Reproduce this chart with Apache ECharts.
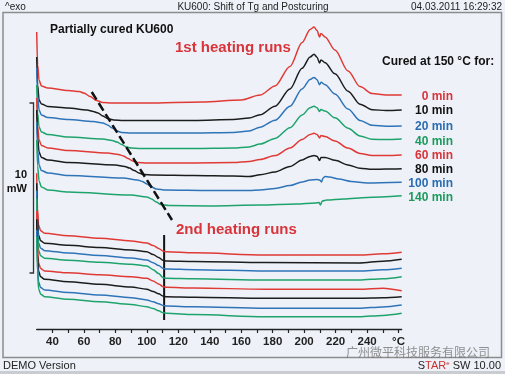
<!DOCTYPE html>
<html><head><meta charset="utf-8">
<script src="https://cdn.jsdelivr.net/npm/echarts@6/dist/echarts.min.js"></script>
<style>html,body{margin:0;padding:0;background:#eef2f8;}#c{width:505px;height:374px;}</style>
</head><body><div id="c"></div>
<script>
// ---- data (temperature °C, heat flow mW, curves offset for display) ----
const runLabels = ['0 min','10 min','20 min','40 min','60 min','80 min','100 min','140 min'];
const xTickValues = [40,60,80,100,120,140,160,180,200,220,240,260];
const xTickTexts  = ['40','60','80','100','120','140','160','180','200','220','240','°C'];

const run1_0 = [[30,17.47],[30.6,15.53],[31.5,14.65],[33,14.29],[37,14.18],[50,14.03],[57,13.97],[60,13.88],[64,13.68],[68,13.44],[72,13.32],[78,13.29],[100,13.29],[135,13.35],[160,13.47],[172,13.76],[181.5,14.30],[191,15.44],[198.7,16.85],[203.8,17.62],[206.3,17.76],[208.2,17.56],[209.8,17.18],[210.7,17.38],[213.3,17.18],[219.6,16.41],[227.9,15.18],[235.5,14.26],[243.2,13.85],[252,13.76],[262,13.76]];
const run1_10 = [[30,16.00],[30.6,14.35],[31.5,13.47],[33,13.24],[37,13.09],[50,13.00],[62,12.88],[66,12.79],[69,12.71],[72,12.53],[75,12.38],[79,12.29],[85,12.27],[130,12.27],[155,12.32],[165,12.41],[172,12.60],[181.5,13.11],[191,14.12],[198.7,15.34],[203.8,16.00],[206.3,16.16],[208.2,15.99],[209.8,15.64],[210.7,15.83],[213.3,15.66],[219.6,15.01],[227.9,13.99],[235.5,13.22],[243.2,12.90],[252,12.85],[262,12.88]];
const run1_20 = [[30,15.35],[30.6,13.71],[31.5,12.88],[33,12.59],[37,12.44],[50,12.32],[66,12.21],[72,12.12],[75,12.00],[78,11.82],[81,11.65],[84,11.56],[90,11.53],[130,11.53],[155,11.56],[165,11.65],[172,11.87],[181.5,12.28],[191,13.11],[198.7,14.12],[203.8,14.68],[206.3,14.80],[208.2,14.66],[209.8,14.37],[210.7,14.51],[213.3,14.37],[219.6,13.82],[227.9,12.94],[235.5,12.27],[243.2,11.98],[252,11.93],[262,11.94]];
const run1_40 = [[30,14.35],[30.6,12.71],[31.5,11.88],[33,11.59],[37,11.44],[50,11.29],[72,11.18],[78,11.09],[81,11.00],[84,10.85],[87,10.71],[90,10.65],[96,10.62],[130,10.62],[155,10.65],[165,10.71],[172,10.88],[181.5,11.21],[191,11.84],[198.7,12.59],[203.8,13.01],[206.3,13.11],[208.2,13.01],[209.8,12.80],[210.7,12.91],[213.3,12.82],[219.6,12.42],[227.9,11.81],[235.5,11.35],[243.2,11.16],[252,11.14],[262,11.18]];
const run1_60 = [[30,13.59],[30.6,11.94],[31.5,11.12],[33,10.80],[37,10.65],[50,10.50],[75,10.35],[82,10.27],[85,10.18],[88,10.03],[91,9.88],[94,9.79],[100,9.77],[130,9.77],[155,9.79],[165,9.85],[172,9.97],[181.5,10.20],[191,10.64],[198.7,11.15],[203.8,11.44],[206.3,11.51],[208.2,11.44],[209.8,11.24],[210.7,11.38],[213.3,11.32],[219.6,11.06],[227.9,10.64],[235.5,10.33],[243.2,10.21],[252,10.21],[262,10.24]];
const run1_80 = [[30,12.88],[30.6,11.24],[31.5,10.41],[33,10.09],[37,9.94],[50,9.79],[80,9.65],[86,9.56],[89,9.47],[92,9.32],[95,9.18],[98,9.09],[104,9.06],[130,9.03],[155,9.00],[165,8.97],[172,9.07],[181.5,9.24],[191,9.56],[198.7,9.94],[203.8,10.15],[206.3,10.20],[208.2,10.16],[209.8,9.91],[210.7,10.09],[213.3,10.09],[219.6,9.92],[227.9,9.65],[235.5,9.45],[243.2,9.39],[252,9.41],[262,9.43]];
const run1_100 = [[30,12.18],[30.6,10.53],[31.5,9.65],[33,9.32],[37,9.18],[50,9.03],[85,8.88],[94,8.77],[97,8.68],[100,8.53],[103,8.35],[106,8.24],[112,8.18],[140,8.15],[165,8.15],[172,8.18],[181.5,8.27],[191,8.44],[198.7,8.65],[203.8,8.77],[208.2,8.80],[209.8,8.77],[211,8.65],[212,8.88],[213.3,8.97],[216,8.94],[222,8.82],[230,8.68],[240,8.59],[262,8.63]];
const run1_140 = [[30,11.12],[30.6,9.59],[31.5,8.71],[33,8.35],[37,8.18],[50,8.06],[90,7.88],[100,7.77],[103,7.65],[106,7.47],[109,7.32],[114,7.26],[140,7.24],[172,7.29],[195,7.35],[207,7.41],[209.5,7.44],[210.3,7.29],[211.5,7.53],[214.4,7.59],[225,7.65],[240,7.74],[262,7.84]];

const run2_0 = [[30,9.16],[30.5,7.10],[31.2,6.10],[32.5,5.78],[35,5.63],[50,5.49],[70,5.34],[90,5.18],[100,5.06],[104,4.91],[107.5,4.74],[110.5,4.58],[112.5,4.55],[130,4.48],[175,4.35],[235,4.35],[250,4.42],[262,4.51]];
const run2_10 = [[30,8.57],[30.5,6.51],[31.2,5.51],[32.5,5.19],[35,5.04],[50,4.92],[70,4.79],[90,4.65],[100,4.55],[104,4.38],[107.5,4.21],[110.5,4.03],[112.5,4.00],[130,3.97],[175,3.91],[235,3.88],[250,3.99],[262,4.10]];
const run2_20 = [[30,8.14],[30.5,6.08],[31.2,5.08],[32.5,4.75],[35,4.61],[50,4.47],[70,4.33],[90,4.18],[100,4.06],[104,3.90],[107.5,3.73],[110.5,3.56],[112.5,3.53],[130,3.49],[175,3.41],[235,3.41],[250,3.48],[262,3.57]];
const run2_40 = [[30,7.69],[30.5,5.63],[31.2,4.63],[32.5,4.31],[35,4.16],[50,4.05],[70,3.93],[90,3.81],[100,3.71],[104,3.49],[107.5,3.26],[110.5,3.01],[112.5,2.98],[130,2.95],[175,2.88],[235,2.88],[250,2.96],[262,3.08]];
const run2_60 = [[30,6.94],[30.5,4.88],[31.2,3.88],[32.5,3.56],[35,3.41],[50,3.31],[70,3.19],[90,3.08],[100,2.98],[104,2.82],[107.5,2.65],[110.5,2.48],[112.5,2.45],[130,2.41],[175,2.34],[235,2.34],[250,2.40],[262,2.25]];
const run2_80 = [[30,6.45],[30.5,4.40],[31.2,3.40],[32.5,3.07],[35,2.92],[50,2.78],[70,2.63],[90,2.47],[100,2.34],[104,2.21],[107.5,2.07],[110.5,1.93],[112.5,1.90],[130,1.87],[175,1.81],[235,1.81],[250,1.84],[262,1.90]];
const run2_100 = [[30,5.82],[30.5,3.76],[31.2,2.77],[32.5,2.44],[35,2.29],[50,2.15],[70,2.00],[90,1.84],[100,1.71],[104,1.60],[107.5,1.49],[110.5,1.38],[112.5,1.35],[130,1.31],[175,1.22],[235,1.22],[250,1.30],[262,1.41]];
const run2_140 = [[30,5.43],[30.5,3.37],[31.2,2.37],[32.5,2.05],[35,1.90],[50,1.75],[70,1.61],[90,1.44],[100,1.31],[104,1.20],[107.5,1.07],[110.5,0.95],[112.5,0.92],[130,0.85],[175,0.72],[235,0.72],[250,0.80],[262,0.92]];

const tgTrendFirst = [[65,13.94],[116,6.41]];
const tgSecond = [[111,5.53],[111,0.53]];

// ---- chart ----
const run1 = [run1_0,run1_10,run1_20,run1_40,run1_60,run1_80,run1_100,run1_140];
const run2 = [run2_0,run2_10,run2_20,run2_40,run2_60,run2_80,run2_100,run2_140];
const lineColors = ['#e03a36','#1c1c1c','#2f74b8','#1fa36c','#e03a36','#1c1c1c','#2f74b8','#1fa36c'];
const textColors = ['#d8343a','#111111','#2a6cb3','#1c9a5c','#d8343a','#111111','#2a6cb3','#1c9a5c'];
const F = '"Liberation Sans", Arial, Helvetica, sans-serif';

const chart = echarts.init(document.getElementById('c'));
const series = [];
series.push({type:'line', data:tgSecond, symbol:'none', silent:true, z:1,
  lineStyle:{color:'#111', width:2}});
[run1, run2].forEach(group => group.forEach((d,i) => series.push({
  type:'line', data:d, symbol:'none', silent:true, smooth:0.3, smoothMonotone:'x', z:2,
  lineStyle:{color:lineColors[i], width:1.5}
})));
series.push({type:'line', data:tgTrendFirst, symbol:'none', silent:true, z:4,
  lineStyle:{color:'#111', width:2.5, type:[9,4]}});

const graphic = [
  {type:'rect', shape:{x:3, y:12.5, width:498.5, height:345}, style:{fill:'none', stroke:'#8c8c8c', lineWidth:1.5}},
  {type:'rect', shape:{x:0, y:371, width:505, height:3}, style:{fill:'#c9ccd0'}},
  {type:'text', style:{text:'^exo', x:5, y:7, font:'10px '+F, fill:'#222', verticalAlign:'middle'}},
  {type:'text', style:{text:'KU600: Shift of Tg and Postcuring', x:253, y:7, font:'10px '+F, fill:'#222', align:'center', verticalAlign:'middle'}},
  {type:'text', style:{text:'04.03.2011 16:29:32', x:502, y:7, font:'10px '+F, fill:'#222', align:'right', verticalAlign:'middle'}},
  {type:'text', style:{text:'DEMO Version', x:3, y:366, font:'11px '+F, fill:'#222', verticalAlign:'middle'}},
  {type:'text', style:{text:'{k|S}{r|TAR}{s|e}{k| SW 10.00}', x:501, y:366, align:'right', verticalAlign:'middle',
    rich:{k:{font:'11px '+F, fill:'#222'}, r:{font:'11px '+F, fill:'#c8322f'}, s:{font:'6px '+F, fill:'#c8322f', verticalAlign:'top', padding:[0,0,6,0]}}}},
  {type:'text', style:{text:'广州微平科技服务有限公司', x:346, y:352, font:'12px "Noto Sans CJK SC", sans-serif', fill:'rgba(110,110,110,0.75)', verticalAlign:'middle'}},
  {type:'text', style:{text:'Partially cured KU600', x:50, y:30, font:'bold 12px '+F, fill:'#111', verticalAlign:'middle'}},
  {type:'text', style:{text:'1st heating runs', x:175, y:48, font:'bold 15px '+F, fill:'#d8343a', verticalAlign:'middle'}},
  {type:'text', style:{text:'2nd heating runs', x:176, y:230, font:'bold 15px '+F, fill:'#d8343a', verticalAlign:'middle'}},
  {type:'text', style:{text:'Cured at 150 °C for:', x:382, y:62, font:'bold 12px '+F, fill:'#111', verticalAlign:'middle'}},
  {type:'text', style:{text:'10', x:27, y:175, font:'bold 11px '+F, fill:'#111', align:'right', verticalAlign:'middle'}},
  {type:'text', style:{text:'mW', x:27, y:189, font:'bold 11px '+F, fill:'#111', align:'right', verticalAlign:'middle'}},
  {type:'polyline', shape:{points:[[29.5,103],[33.5,103],[33.5,273],[29.5,273]]}, style:{fill:'none', stroke:'#333', lineWidth:1.3}}
];
const legendY = [97,111,127,141.5,156,170,184,197.5];
runLabels.forEach((t,i) => graphic.push({type:'text', style:{text:t, x:453, y:legendY[i], font:'bold 12px '+F, fill:textColors[i], align:'right', verticalAlign:'middle'}}));

chart.setOption({
  backgroundColor:'#eef2f8',
  animation:false,
  grid:{left:36.7, right:103.3, top:23, bottom:45},
  xAxis:{type:'value', min:30, max:262, interval:10,
    axisLine:{lineStyle:{color:'#222', width:1.3}},
    axisTick:{length:4, lineStyle:{color:'#222', width:1.2}},
    splitLine:{show:false},
    axisLabel:{interval:0, margin:7, color:'#222', fontFamily:F, fontSize:11.5, fontWeight:'bold',
      showMinLabel:false, showMaxLabel:false,
      formatter:v => { const i = xTickValues.indexOf(Math.round(v)); return i >= 0 ? xTickTexts[i] : ''; }}},
  yAxis:{type:'value', min:0, max:18, show:false},
  series:series,
  graphic:graphic
});
</script></body></html>
